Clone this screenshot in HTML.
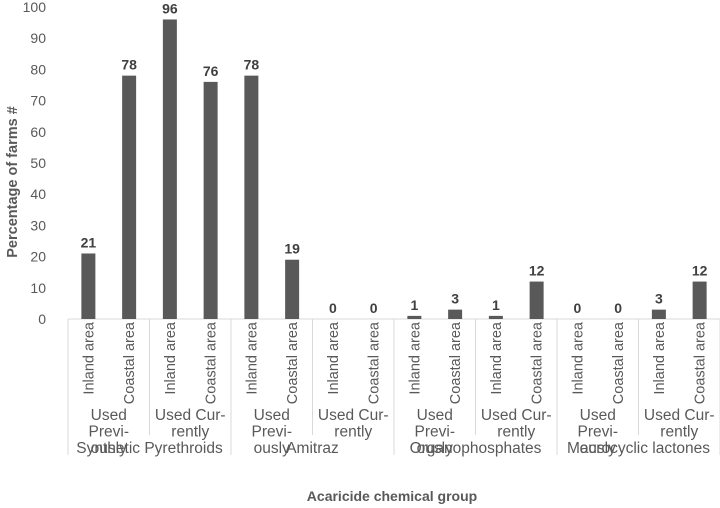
<!DOCTYPE html>
<html><head><meta charset="utf-8"><style>
body{margin:0;background:#fff;}
svg{display:block;font-family:"Liberation Sans",sans-serif;}
</style></head><body>
<svg id="c" width="720" height="508"></svg>
<script>
const categories=["Inland area","Coastal area","Inland area","Coastal area","Inland area","Coastal area","Inland area","Coastal area","Inland area","Coastal area","Inland area","Coastal area","Inland area","Coastal area","Inland area","Coastal area"];
const usage=["Used|Previ-|ously","Used Cur-|rently","Used|Previ-|ously","Used Cur-|rently","Used|Previ-|ously","Used Cur-|rently","Used|Previ-|ously","Used Cur-|rently"];
const groups=["Synthetic Pyrethroids","Amitraz","Organophosphates","Macrocyclic lactones"];
const values=[21,78,96,76,78,19,0,0,1,3,1,12,0,0,3,12];
const yTicks=[0,10,20,30,40,50,60,70,80,90,100];
const NS="http://www.w3.org/2000/svg";
const svg=document.getElementById('c');
const x0=68,x1=720,y0=319,yTop=7;
const slot=(x1-x0)/categories.length;
const y=v=>y0-(v/100)*(y0-yTop);
const xc=i=>x0+slot*(i+0.5);
function mk(t,a,txt){const e=document.createElementNS(NS,t);for(const k in a)e.setAttribute(k,a[k]);if(txt!==undefined)e.textContent=txt;svg.appendChild(e);return e;}
yTicks.forEach(t=>{
 const e=mk('text',{x:46,y:y(t)+5,'text-anchor':'end','font-size':14,fill:'#595959'},t);
 
 
});
const ax=mk('line',{x1:x0,x2:x1,y1:y0,y2:y0,stroke:'#d9d9d9','stroke-width':1});

for(let k=0;k<=usage.length;k++){
 const xx=x0+slot*2*k;
 const l=mk('line',{x1:xx,x2:xx,y1:y0,y2:(k%2==0)?455:435,stroke:'#d9d9d9','stroke-width':1});
 
}
values.forEach((v,i)=>{
 const r=mk('rect',{x:xc(i)-7,y:y(v),width:14,height:y0-y(v),fill:'#595959'});
 
 const t=mk('text',{x:xc(i),y:y(v)-6,'text-anchor':'middle','font-size':14,'font-weight':'bold',fill:'#404040'},v);
 
});
categories.forEach((c,i)=>{
 const t=mk('text',{transform:`translate(${xc(i)+5},322) rotate(-90)`,'text-anchor':'end','font-size':14.5,fill:'#595959'},c);
 
});
usage.forEach((u,k)=>{
 const cx=x0+slot*(2*k+1);
 u.split('|').forEach((ln,j)=>{
  const t=mk('text',{x:cx,y:420+j*16.5,'text-anchor':'middle','font-size':15.5,fill:'#595959'},ln);
  
 });
});
groups.forEach((g,k)=>{
 const t=mk('text',{x:x0+slot*(4*k+2),y:453,'text-anchor':'middle','font-size':15.5,fill:'#595959'},g);
 
});
const yt=mk('text',{transform:'translate(17,182) rotate(-90)','text-anchor':'middle','font-size':14.5,'font-weight':'bold',fill:'#595959'},'Percentage of farms #');

const xt=mk('text',{x:392,y:501,'text-anchor':'middle','font-size':14,'font-weight':'bold',fill:'#595959'},'Acaricide chemical group');

</script>
</body></html>
